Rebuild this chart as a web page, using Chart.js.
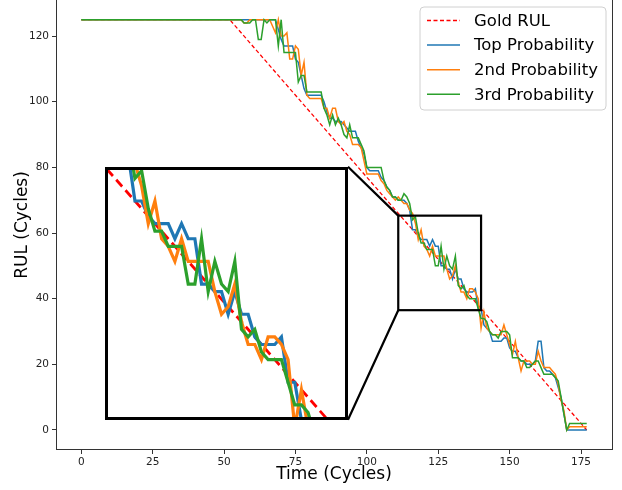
<!DOCTYPE html>
<html>
<head>
<meta charset="utf-8">
<script src="https://cdn.jsdelivr.net/npm/chart.js@4.4.1/dist/chart.umd.min.js"></script>
<style>
  html, body { margin: 0; padding: 0; background: #fff; }
  #wrap { position: relative; width: 622px; height: 490px; }
  #insetChart { position: absolute; }
</style>
</head>
<body>
<div id="wrap">
  <canvas id="mainChart" width="622" height="490"></canvas>
  <canvas id="insetChart"></canvas>
</div>
<script>
// time axis 0..177 cycles
var cycles = Array.from({ length: 178 }, function (_, i) { return i; });

var goldCycles = [0, 52, 177];
var goldRul = [125, 125, 0];

var topProb = [
  125,125,125,125,125,125,125,125,125,125,
  125,125,125,125,125,125,125,125,125,125,
  125,125,125,125,125,125,125,125,125,125,
  125,125,125,125,125,125,125,125,125,125,
  125,125,125,125,125,125,125,125,125,125,
  125,125,125,125,125,125,125,125,125,125,
  125,125,125,125,125,125,125,125,125,
  122,119,117,117,117,117,113,112,108,104,
  102,102,102,102,102,102,100,97,95,95,
  94,94,94,93,92,91,91,91,88,86,
  84,80,79,79,79,79,77,76,74,73,
  71,71,70,70,70,69,67,61,61,59,
  58,58,58,56,58,56,56,50,50,49,
  49,46,49,46,46,43,42,42,42,43,
  37,37,32,31,30,27,27,27,27,28,
  28,25,24,24,22,21,21,20,20,20,
  21,27,27,19,18,18,17,16,13,10,
  5,0,0,0,0,0,0,0,0
];

var secondProb = [
  125,125,125,125,125,125,125,125,125,125,
  125,125,125,125,125,125,125,125,125,125,
  125,125,125,125,125,125,125,125,125,125,
  125,125,125,125,125,125,125,125,125,125,
  125,125,125,125,125,125,125,125,125,125,
  125,125,125,125,125,125,125,124,124,125,
  125,125,125,125,125,125,125,123,121,
  125,120,120,121,113,113,117,116,108,112,
  102,101,101,101,101,101,98,98,95,98,
  98,94,93,94,91,90,87,87,87,86,
  82,78,78,78,78,78,76,75,73,72,
  71,70,71,70,69,69,67,66,63,58,
  61,56,55,53,56,53,53,53,53,49,
  46,47,50,45,42,42,40,43,43,42,
  40,31,36,31,30,29,29,29,29,32,
  29,26,23,27,22,18,21,21,21,20,
  20,24,21,19,19,19,18,17,14,9,
  6,0,1,1,1,1,1,1,1
];

var thirdProb = [
  125,125,125,125,125,125,125,125,125,125,
  125,125,125,125,125,125,125,125,125,125,
  125,125,125,125,125,125,125,125,125,125,
  125,125,125,125,125,125,125,125,125,125,
  125,125,125,125,125,125,125,125,125,125,
  125,125,125,125,125,125,125,124,124,124,
  125,125,119,119,125,124,125,125,125,
  117,125,115,115,115,115,115,106,108,108,
  103,103,103,103,103,103,98,96,93,96,
  93,95,93,90,89,93,89,89,89,87,
  85,80,80,80,80,80,80,76,74,73,
  71,71,70,70,72,71,69,64,65,60,
  57,57,55,55,55,50,50,56,49,53,
  50,49,53,44,43,44,41,40,40,40,
  37,34,34,33,30,29,29,28,30,30,
  30,29,22,22,22,21,21,19,19,20,
  21,21,19,17,17,17,17,16,15,10,
  5,0,2,2,2,2,2,2,2
];

var xTicks = [0, 25, 50, 75, 100, 125, 150, 175];
var yTicks = [0, 20, 40, 60, 80, 100, 120];

// zoomed region and where the inset sits (in main data coords)
var boxX = [111, 140], boxY = [36.5, 65.3];
var insetViewX = [111.5, 148], insetViewY = [32, 65.5];
var insetAnchorX = [8.4, 93.4], insetAnchorY = [3.1, 80.2];

var FONT = "'DejaVu Sans', sans-serif";
Chart.defaults.font.family = FONT;

function pts(xs, ys) {
  return xs.map(function (x, i) { return { x: x, y: ys[i] }; });
}

function makeDatasets(w, dash) {
  return [
    { label: 'Gold RUL', data: pts(goldCycles, goldRul), borderColor: '#ff0000', borderWidth: w * 0.85, borderDash: dash, order: 4 },
    { label: 'Top Probability', data: pts(cycles, topProb), borderColor: '#1f77b4', borderWidth: w, order: 3 },
    { label: '2nd Probability', data: pts(cycles, secondProb), borderColor: '#ff7f0e', borderWidth: w, order: 2 },
    { label: '3rd Probability', data: pts(cycles, thirdProb), borderColor: '#2ca02c', borderWidth: w, order: 1 }
  ];
}

function insetRect(chart) {
  var xs = chart.scales.x, ys = chart.scales.y;
  return {
    left: xs.getPixelForValue(insetAnchorX[0]),
    right: xs.getPixelForValue(insetAnchorX[1]),
    top: ys.getPixelForValue(insetAnchorY[1]),
    bottom: ys.getPixelForValue(insetAnchorY[0])
  };
}

var decorPlugin = {
  id: 'decor',
  afterDatasetsDraw: function (chart) {
    var c = chart.ctx, a = chart.chartArea;
    var xs = chart.scales.x, ys = chart.scales.y;
    c.save();
    // axes frame
    c.strokeStyle = '#333';
    c.lineWidth = 1;
    c.strokeRect(a.left + 0.5, a.top - 1, a.right - a.left, a.bottom - a.top + 0.5);

    // zoom box + connectors
    var bl = xs.getPixelForValue(boxX[0]), br = xs.getPixelForValue(boxX[1]);
    var bt = ys.getPixelForValue(boxY[1]), bb = ys.getPixelForValue(boxY[0]);
    var r = insetRect(chart);
    c.strokeStyle = '#000';
    c.lineWidth = 2.2;
    c.strokeRect(bl, bt, br - bl, bb - bt);
    c.beginPath();
    c.moveTo(r.right, r.top); c.lineTo(bl, bt);
    c.moveTo(r.right, r.bottom); c.lineTo(bl, bb);
    c.stroke();
    c.restore();
  },
  afterDraw: function (chart) {
    var c = chart.ctx, a = chart.chartArea;
    var x0 = a.right - 192, y0 = a.top + 7, w = 186, h = 103;
    c.save();
    c.beginPath();
    c.roundRect(x0, y0, w, h, 4);
    c.fillStyle = 'rgba(255,255,255,0.8)';
    c.fill();
    c.strokeStyle = '#d0d0d0';
    c.lineWidth = 1;
    c.stroke();
    c.font = '16.5px ' + FONT;
    c.textBaseline = 'middle';
    chart.data.datasets.forEach(function (ds, i) {
      var yy = y0 + 13.5 + i * 24.6;
      c.beginPath();
      c.strokeStyle = ds.borderColor;
      c.lineWidth = 1.5;
      c.setLineDash(ds.borderDash ? [4, 2.5] : []);
      c.moveTo(x0 + 7, yy); c.lineTo(x0 + 40, yy);
      c.stroke();
      c.setLineDash([]);
      c.fillStyle = '#000';
      c.fillText(ds.label, x0 + 54, yy + 1);
    });
    c.restore();
  }
};

var tickFont = { family: FONT, size: 10.5 };

var mainChart = new Chart(document.getElementById('mainChart').getContext('2d'), {
  type: 'line',
  data: { datasets: makeDatasets(1.5, [4, 2.5]) },
  options: {
    responsive: false,
    animation: false,
    layout: { padding: { left: 0, right: 10, top: 0, bottom: 0 } },
    elements: { point: { radius: 0 }, line: { tension: 0 } },
    plugins: { legend: { display: false }, tooltip: { enabled: false } },
    scales: {
      x: {
        type: 'linear',
        min: -8.85,
        max: 185.85,
        afterBuildTicks: function (s) { s.ticks = xTicks.map(function (v) { return { value: v }; }); },
        afterFit: function (s) { s.height = 40; s.paddingLeft = 0; s.paddingRight = 0; },
        grid: { drawOnChartArea: false, drawTicks: true, tickLength: 4, color: '#333' },
        border: { display: false },
        ticks: { font: tickFont, color: '#222', padding: 2, maxRotation: 0 },
        title: { display: true, text: 'Time (Cycles)', font: { family: FONT, size: 17 }, color: '#000', padding: { top: 0, bottom: 5 } }
      },
      y: {
        type: 'linear',
        min: -6.1,
        max: 131,
        afterBuildTicks: function (s) { s.ticks = yTicks.map(function (v) { return { value: v }; }); },
        afterFit: function (s) { s.width = 56; s.paddingTop = 0; s.paddingBottom = 0; },
        grid: { drawOnChartArea: false, drawTicks: true, tickLength: 4, color: '#333' },
        border: { display: false },
        ticks: { font: tickFont, color: '#222', padding: 3 },
        title: { display: true, text: 'RUL (Cycles)', font: { family: FONT, size: 17 }, color: '#000', padding: { top: 12, bottom: 0 } }
      }
    }
  },
  plugins: [decorPlugin]
});

// inset axes placed over the main chart
var r = insetRect(mainChart);
var insetCanvas = document.getElementById('insetChart');
insetCanvas.width = Math.round(r.right - r.left);
insetCanvas.height = Math.round(r.bottom - r.top);
insetCanvas.style.left = Math.round(r.left) + 'px';
insetCanvas.style.top = Math.round(r.top) + 'px';

var insetPlugin = {
  id: 'insetFrame',
  beforeDraw: function (chart) {
    chart.ctx.save();
    chart.ctx.fillStyle = '#fff';
    chart.ctx.fillRect(0, 0, chart.width, chart.height);
    chart.ctx.restore();
  },
  afterDraw: function (chart) {
    var c = chart.ctx;
    c.save();
    c.strokeStyle = '#000';
    c.lineWidth = 3;
    c.strokeRect(1.5, 1.5, chart.width - 3, chart.height - 3);
    c.restore();
  }
};

var insetChart = new Chart(insetCanvas.getContext('2d'), {
  type: 'line',
  data: { datasets: makeDatasets(3.2, [9, 5]) },
  options: {
    responsive: false,
    animation: false,
    layout: { padding: 0 },
    elements: { point: { radius: 0 }, line: { tension: 0 } },
    plugins: { legend: { display: false }, tooltip: { enabled: false } },
    scales: {
      x: { type: 'linear', display: false, min: insetViewX[0], max: insetViewX[1] },
      y: { type: 'linear', display: false, min: insetViewY[0], max: insetViewY[1] }
    }
  },
  plugins: [insetPlugin]
});
</script>
</body>
</html>
